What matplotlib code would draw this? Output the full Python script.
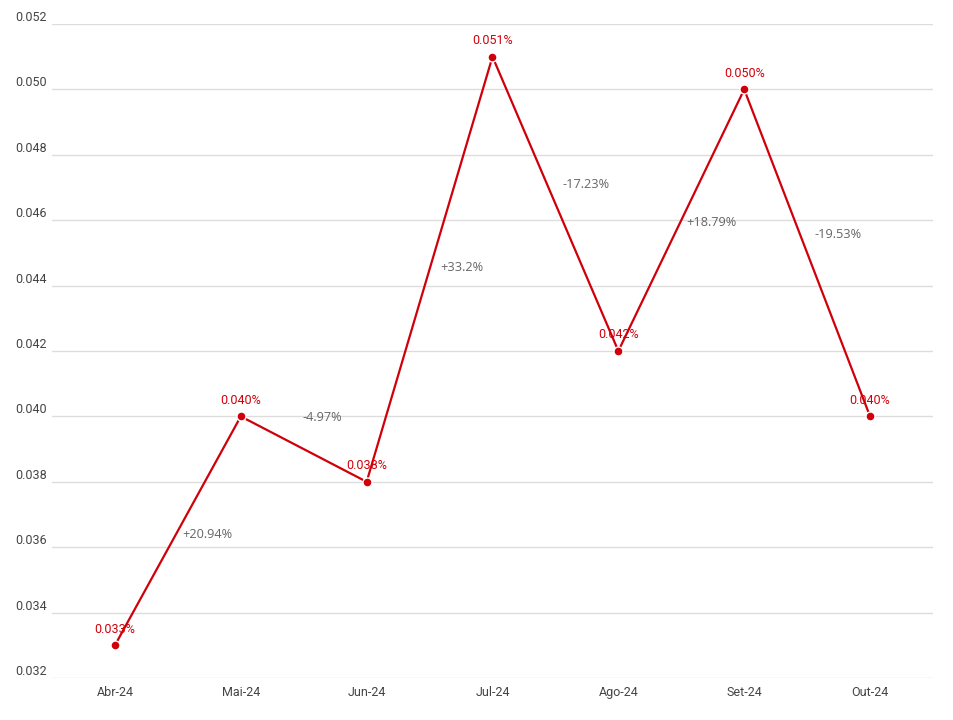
import numpy as np
import matplotlib
matplotlib.use("Agg")
import matplotlib.pyplot as plt

# data
months = ["Abr-24", "Mai-24", "Jun-24", "Jul-24", "Ago-24", "Set-24", "Out-24"]
values = [0.033, 0.040, 0.038, 0.051, 0.042, 0.050, 0.040]
value_labels = ["0.033%", "0.040%", "0.038%", "0.051%", "0.042%", "0.050%", "0.040%"]
change_labels = ["+20.94%", "-4.97%", "+33.2%", "-17.23%", "+18.79%", "-19.53%"]
yticks = [0.032, 0.034, 0.036, 0.038, 0.040, 0.042, 0.044, 0.046, 0.048, 0.050, 0.052]

RED = "#d0000a"

fig = plt.figure(figsize=(9.54, 7.2), dpi=100)
ax = fig.add_axes([52 / 954, 1 - 678 / 720, 881 / 954, 654 / 720])

x = np.arange(len(months))
ax.set_xlim(-0.5, len(months) - 0.5)
ax.set_ylim(0.032, 0.052)

# grid
for yv in yticks:
    ax.axhline(yv, color="#dddddd", lw=1, zorder=0)
    ax.text(-0.042, yv, f"{yv:.3f}", transform=ax.get_yaxis_transform(),
            ha="left", va="bottom", fontsize=9, color="#444444",
            family="Roboto")

ax.plot(x, values, color=RED, lw=1.6, zorder=3)
ax.plot(x, values, "o", color=RED, ms=6.5, mec="white", mew=1.0, zorder=4)

for xi, v, lab in zip(x, values, value_labels):
    ax.annotate(lab, (xi, v), xytext=(0, 7), textcoords="offset points",
                ha="center", va="bottom", fontsize=9, color=RED,
                family="Roboto", zorder=2)

# change labels: segment midpoint, shifted perpendicular to the segment
fig.canvas.draw()
tr = ax.transData
for i, lab in enumerate(change_labels):
    p0 = tr.transform((x[i], values[i]))
    p1 = tr.transform((x[i + 1], values[i + 1]))
    mid = (p0 + p1) / 2
    d = p1 - p0
    n = np.array([d[1], -d[0]]) / np.hypot(*d)
    if n[0] < 0:
        n = -n
    pos = mid + n * 26 + np.array([7, 9])
    ax.text(*tr.inverted().transform(pos), lab, ha="center", va="center",
            fontsize=9.2, color="#666666", family="Open Sans", zorder=2)

ax.set_xticks(x)
ax.set_xticklabels(months, fontsize=9, color="#444444", family="Roboto")
ax.tick_params(axis="x", length=0, pad=6)
ax.set_yticks([])
for s in ax.spines.values():
    s.set_visible(False)

plt.savefig("out.png", dpi=100)
plt.close()
